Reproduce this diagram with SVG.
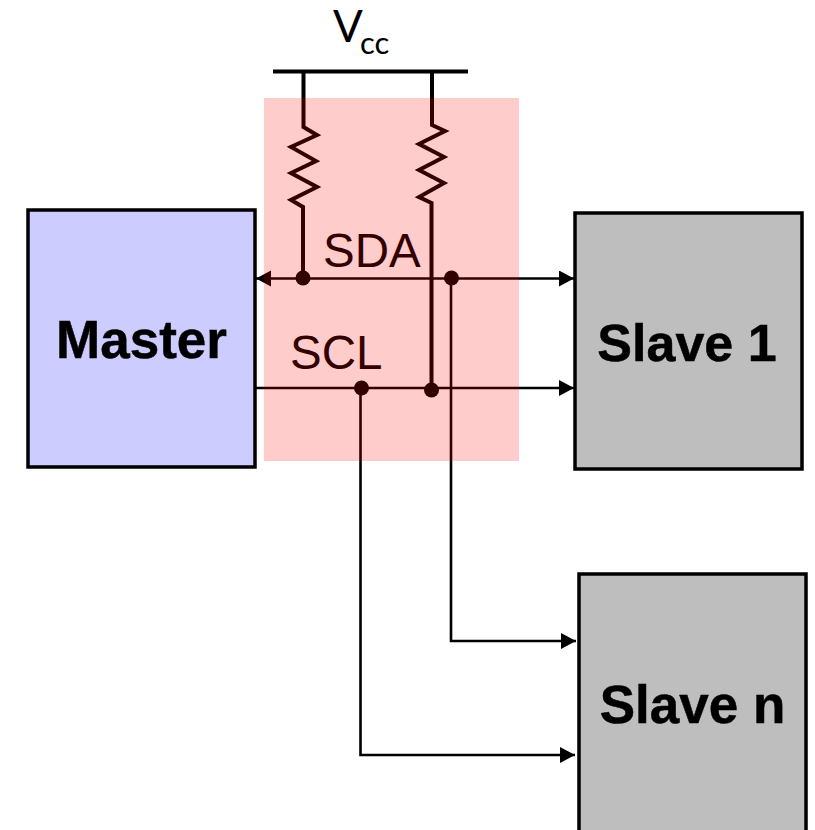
<svg xmlns="http://www.w3.org/2000/svg" width="815" height="830" viewBox="0 0 815 830">
<style>
.box{stroke:#000;stroke-width:3.5}
.blabel{font:bold 53px "Liberation Sans",Arial,sans-serif;fill:#000;stroke:#000;stroke-width:.5;text-anchor:middle}
.sig{font:47.500px "Liberation Sans",Arial,sans-serif;fill:#000}
.vcc{font-family:Lato,"Open Sans",sans-serif;fill:#000}
.wire{fill:none;stroke:#000;stroke-width:2.6}
.rail{fill:none;stroke:#000;stroke-width:4}
.dot{fill:#000}
</style>
<defs>
<marker id="arrow" markerUnits="userSpaceOnUse" markerWidth="16" markerHeight="18" refX="15" refY="8" orient="auto-start-reverse">
<polygon points="0,0 15,8 0,16" fill="#000"/>
</marker>
</defs>
<rect width="815" height="830" fill="#fff"/>
<g id="master"><rect class="box" x="28" y="210" width="227" height="257" fill="#ccccff"/><text class="blabel" x="141.500" y="358">Master</text></g>
<g id="slave1"><rect class="box" x="575" y="213" width="227" height="256" fill="#bebebe"/><text class="blabel" x="687" y="361" style="font-size:52px">Slave 1</text></g>
<g id="slaven"><rect class="box" x="579" y="574" width="227" height="262" fill="#bebebe"/><text class="blabel" x="692.500" y="723">Slave n</text></g>
<g id="vcc"><text class="vcc" x="333" y="42" font-size="44">V</text><text class="vcc" x="360" y="54" font-size="31">cc</text></g>
<g id="connectors">
<path class="rail" d="M273 71.500H468"/>
<path class="rail" d="M303.500 71V127L317 135 291 147 316 161 291 173 317 187 291 200 303 207V278"/>
<path class="rail" d="M432 71V125L445 131 419 144 444 157 419 170 444 183 419 197 431.500 203V389"/>
<path class="wire" d="M256 278.500H574" marker-start="url(#arrow)" marker-end="url(#arrow)"/>
<path class="wire" d="M256 388H574" marker-end="url(#arrow)"/>
<path class="wire" d="M451 278V641H576" marker-end="url(#arrow)"/>
<path class="wire" d="M360.500 388V755H575" marker-end="url(#arrow)"/>
<circle class="dot" cx="303" cy="278" r="7.500"/>
<circle class="dot" cx="451.500" cy="278" r="7.500"/>
<circle class="dot" cx="361.500" cy="388" r="7.500"/>
<circle class="dot" cx="431.500" cy="390" r="7.500"/>
</g>
<g id="labels"><text class="sig" x="323" y="267">SDA</text><text class="sig" x="290" y="369">SCL</text></g>
<rect id="overlay" x="264" y="98" width="255" height="363" fill="#ff0000" fill-opacity="0.2"/>
</svg>
